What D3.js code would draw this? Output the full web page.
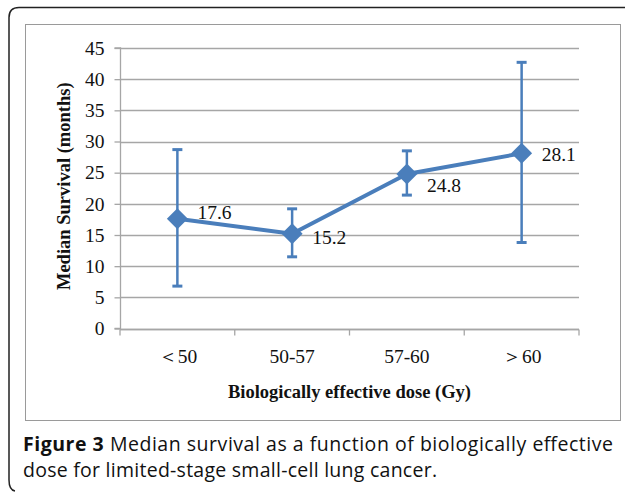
<!DOCTYPE html>
<html>
<head>
<meta charset="utf-8">
<script src="https://cdn.jsdelivr.net/npm/d3@7"></script>
<style>
  html, body { margin: 0; padding: 0; background: #fff; }
  svg { display: block; }
</style>
</head>
<body>
<svg id="chart" width="625" height="492"></svg>
<script>
const categories = ["<50", "50-57", "57-60", ">60"];
const categoryLabels = ["\uFF1C50", "50-57", "57-60", "\uFF1E60"];
const medians = [17.6, 15.2, 24.8, 28.1];
const errLow = [6.8, 11.5, 21.4, 13.8];
const errHigh = [28.7, 19.2, 28.5, 42.7];
const yTicks = [0, 5, 10, 15, 20, 25, 30, 35, 40, 45];
const yTitle = "Median Survival (months)";
const xTitle = "Biologically effective dose (Gy)";
const captionBold = "Figure 3";
const captionLine1 = " Median survival as a function of biologically effective";
const captionLine2 = "dose for limited-stage small-cell lung cancer.";

const svg = d3.select("#chart");
const blue = "#4a7ebb";
const grid = "#a6a6a6";
const serif = "'Liberation Serif', 'Times New Roman', serif";
const sans = "'Open Sans', 'Noto Sans', sans-serif";

// outer rounded box
svg.append("path")
  .attr("d", "M 640 7.5 L 19 7.5 Q 9 7.5 9 17.5 L 9 480 Q 9 490 15 491")
  .attr("fill", "none").attr("stroke", "#222").attr("stroke-width", 1.5);

// inner chart frame
svg.append("rect")
  .attr("x", 25.5).attr("y", 24.5).attr("width", 595).attr("height", 396)
  .attr("fill", "#fff").attr("stroke", "#9a9a9a").attr("stroke-width", 1);

const x = d3.scaleBand().domain(categories).range([120, 579]).padding(0);
const y = d3.scaleLinear().domain([0, 45]).range([328.5, 48]);

const g = svg.append("g");

// gridlines
g.selectAll("line.grid").data(yTicks).enter().append("line")
  .attr("x1", 120).attr("x2", 579)
  .attr("y1", d => Math.round(y(d)) + 0.5).attr("y2", d => Math.round(y(d)) + 0.5)
  .attr("stroke", grid).attr("stroke-width", 1.3);

// y axis
const yAxis = d3.axisLeft(y).tickValues(yTicks).tickSize(6).tickPadding(10);
const ya = g.append("g").attr("transform", "translate(120.5,0)").call(yAxis);
ya.select(".domain").attr("stroke", grid).attr("stroke-width", 1.3).attr("d", `M-6,${y(45)}H0V${y(0)}H-6`);
ya.selectAll(".tick line").attr("stroke", grid).attr("stroke-width", 1.3);
ya.selectAll(".tick text")
  .attr("font-family", serif)
  .attr("font-size", 19.5).attr("fill", "#111");

// x axis
const xAxis = d3.axisBottom(x).tickSize(0).tickPadding(20).tickFormat((d, i) => categoryLabels[i]);
const xa = g.append("g").attr("transform", `translate(0,${Math.round(y(0)) + 0.5})`).call(xAxis);
xa.select(".domain").attr("stroke", grid).attr("stroke-width", 1.3).attr("d", "M120,0H579");
xa.selectAll(".tick text")
  .attr("font-family", serif)
  .attr("font-size", 19.5).attr("fill", "#111");
// category boundary ticks
const bounds = categories.map(c => x(c)).concat([x.range()[1]]);
xa.selectAll("line.bt").data(bounds).enter().append("line")
  .attr("x1", d => d).attr("x2", d => d).attr("y1", 0).attr("y2", 6)
  .attr("stroke", grid).attr("stroke-width", 1.3);

const cx = c => x(c) + x.bandwidth() / 2;

// error bars
categories.forEach((c, i) => {
  const xc = cx(c);
  g.append("line").attr("x1", xc).attr("x2", xc)
    .attr("y1", y(errLow[i])).attr("y2", y(errHigh[i]))
    .attr("stroke", blue).attr("stroke-width", 2.5);
  [errLow[i], errHigh[i]].forEach(v => {
    g.append("line").attr("x1", xc - 5).attr("x2", xc + 5)
      .attr("y1", y(v)).attr("y2", y(v))
      .attr("stroke", blue).attr("stroke-width", 3);
  });
});

// line
const line = d3.line().x((d, i) => cx(categories[i])).y(d => y(d));
g.append("path").datum(medians).attr("d", line)
  .attr("fill", "none").attr("stroke", blue).attr("stroke-width", 4).attr("stroke-linejoin", "round");

// diamond markers
g.selectAll("path.mk").data(medians).enter().append("path")
  .attr("d", d3.symbol().type(d3.symbolDiamond2).size(280))
  .attr("transform", (d, i) => `translate(${cx(categories[i])},${y(d)})`)
  .attr("fill", blue);

// data labels
const labelDx = [20, 20, 20, 20];
const labelDy = [0, 10, 18, 8];
g.selectAll("text.lbl").data(medians).enter().append("text")
  .attr("x", (d, i) => cx(categories[i]) + labelDx[i])
  .attr("y", (d, i) => y(d) + labelDy[i])
  .text(d => d.toFixed(1))
  .attr("font-family", serif)
  .attr("font-size", 19.5).attr("fill", "#111");

// axis titles
svg.append("text")
  .attr("transform", `translate(70,${y(22.5) - 2}) rotate(-90)`)
  .attr("text-anchor", "middle")
  .attr("font-family", serif)
  .attr("font-weight", "bold").attr("font-size", 18.5).attr("fill", "#111")
  .text(yTitle);

svg.append("text")
  .attr("x", (120 + 579) / 2).attr("y", 398)
  .attr("text-anchor", "middle")
  .attr("font-family", serif)
  .attr("font-weight", "bold").attr("font-size", 18.5).attr("fill", "#111")
  .text(xTitle);

// caption
const cap = svg.append("text").attr("x", 23).attr("y", 451)
  .attr("font-family", sans)
  .attr("font-size", 19.5).attr("fill", "#111")
  .attr("textLength", 590).attr("lengthAdjust", "spacing");
cap.append("tspan").attr("font-weight", "bold").text(captionBold);
cap.append("tspan").text(captionLine1);
svg.append("text").attr("x", 23).attr("y", 477)
  .attr("font-family", sans)
  .attr("font-size", 19.5).attr("fill", "#111")
  .attr("textLength", 414).attr("lengthAdjust", "spacing")
  .text(captionLine2);
</script>
</body>
</html>
